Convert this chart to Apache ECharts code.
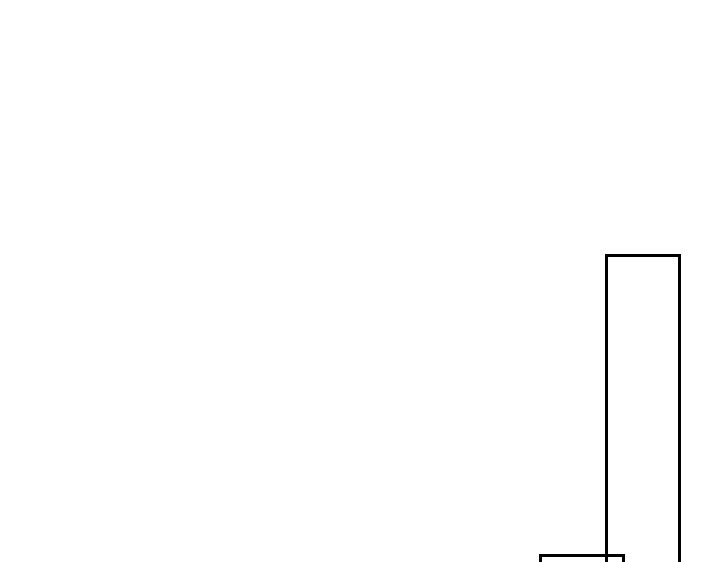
<!DOCTYPE html>
<html>
<head>
<meta charset="utf-8">
<script src="https://cdn.jsdelivr.net/npm/echarts@6/dist/echarts.min.js"></script>
<style>
  html, body { margin: 0; padding: 0; background: #ffffff; }
  #main { width: 720px; height: 562px; }
</style>
</head>
<body>
<div id="main"></div>
<script>
// data (bars run past the bottom edge)
var categories = ['A'];
var shortValues = [7.67];
var tallValues = [57.67];

var chart = echarts.init(document.getElementById('main'), null, { renderer: 'canvas' });

var option = {
  backgroundColor: '#ffffff',
  animation: false,
  grid: { left: 500, width: 220, top: 0, height: 600, outerBoundsMode: 'none' },
  xAxis: {
    type: 'category',
    data: categories,
    show: false
  },
  yAxis: {
    type: 'value',
    min: 0,
    max: 100,
    show: false
  },
  series: [{
    type: 'bar',
    data: shortValues,
    barWidth: 86,
    barGap: '-23.26%',
    itemStyle: {
      color: 'rgba(0,0,0,0)',
      borderColor: '#000000',
      borderWidth: 3
    }
  }, {
    type: 'bar',
    data: tallValues,
    barWidth: 76,
    barGap: '-23.26%',
    itemStyle: {
      color: 'rgba(0,0,0,0)',
      borderColor: '#000000',
      borderWidth: 3
    }
  }]
};

chart.setOption(option);
</script>
</body>
</html>
